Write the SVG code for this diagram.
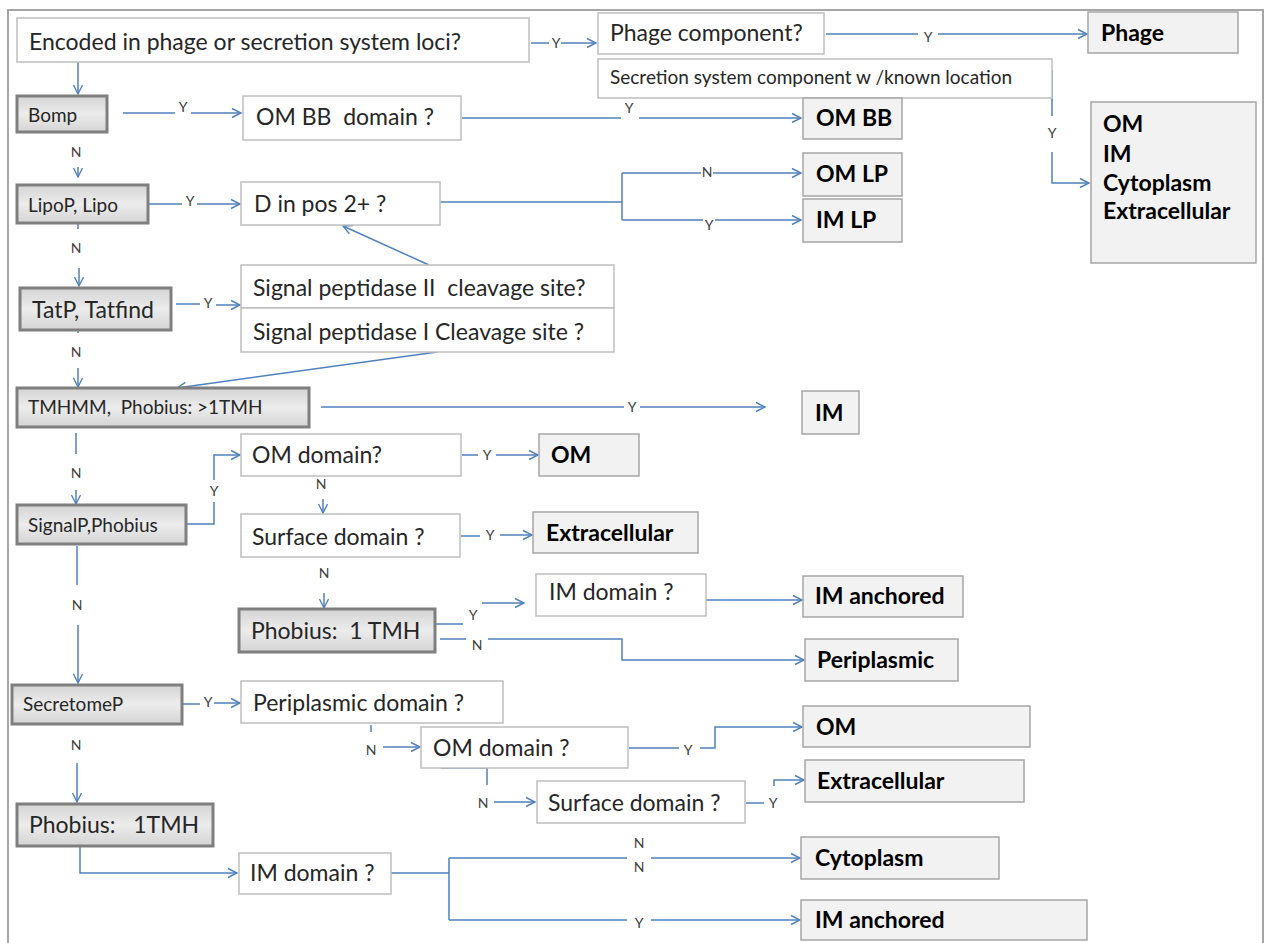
<svg xmlns="http://www.w3.org/2000/svg" width="1268" height="943" viewBox="0 0 1268 943">
<defs>
<linearGradient id="gt" x1="0" y1="0" x2="0" y2="1">
<stop offset="0" stop-color="#d4d4d4"/><stop offset="0.5" stop-color="#ececec"/><stop offset="1" stop-color="#d4d4d4"/>
</linearGradient>
<marker id="ah" markerWidth="12" markerHeight="12" refX="10" refY="6" orient="auto" markerUnits="userSpaceOnUse">
<path d="M1,1.5 L10,6 L1,10.5" fill="none" stroke="#4f81bd" stroke-width="1.4"/>
</marker>
<style>
.q{fill:#fff;stroke:#bfbfbf;stroke-width:1.5}
.t{fill:#f2f2f2;stroke:#a6a6a6;stroke-width:1.5}
.tool{fill:url(#gt);stroke:#7f7f7f;stroke-width:3}
.c{fill:none;stroke:#4f81bd;stroke-width:1.5}
.a{marker-end:url(#ah)}
text{font-family:Lato,"Open Sans","Liberation Sans",sans-serif;white-space:pre}
.tq{font-size:23px;fill:#262626}
.ts{font-size:19px;fill:#262626}
.tb{font-size:23px;font-weight:bold;fill:#000}
.l{font-size:14px;fill:#404040;text-anchor:middle}
</style>
</defs>
<rect x="8" y="10" width="1255" height="945" fill="#fff" stroke="#a6a6a6" stroke-width="2"/>

<g id="connectors">
<path class="c" d="M531,43 H549"/><text class="l" x="556" y="48">Y</text><path class="c a" d="M561,43 H596"/>
<path class="c" d="M826,34 H918"/><text class="l" x="928" y="42">Y</text><path class="c a" d="M938,34 H1087"/>
<path class="c" d="M1052,70 V116"/><text class="l" x="1052" y="138">Y</text><path class="c a" d="M1052,152 V183 H1089"/>
<path class="c a" d="M78,62 V94"/>
<path class="c" d="M123,113 H175"/><text class="l" x="183" y="112">Y</text><path class="c a" d="M191,113 H241"/>
<path class="c" d="M462,118 H621"/><text class="l" x="629" y="113">Y</text><path class="c a" d="M639,118 H801"/>
<path class="c" d="M78,126 V132"/><text class="l" x="76" y="157">N</text><path class="c a" d="M78,167 V177"/>
<path class="c" d="M149,204 H182"/><text class="l" x="190" y="206">Y</text><path class="c a" d="M197,204 H240"/>
<path class="c" d="M440,202 H622 M622,173 V220"/>
<path class="c" d="M622,173 H701"/><text class="l" x="707" y="177">N</text><path class="c a" d="M713,173 H801"/>
<path class="c" d="M622,220 H703"/><text class="l" x="709" y="230">Y</text><path class="c a" d="M715,220 H801"/>
<path class="c" d="M78,222 V229"/><text class="l" x="76" y="253">N</text><path class="c a" d="M79,268 V286"/>
<path class="c" d="M176,304 H200"/><text class="l" x="208" y="308">Y</text><path class="c a" d="M216,305 H240"/>
<path class="c a" d="M429,265 L343,226"/>
<path class="c" d="M78,320 V333"/><text class="l" x="76" y="357">N</text><path class="c a" d="M78,368 V387"/>
<path class="c a" d="M437,352 L177,388"/>
<path class="c" d="M321,407 H624"/><text class="l" x="632" y="412">Y</text><path class="c a" d="M640,407 H765"/>
<path class="c" d="M76,433 V454"/><text class="l" x="76" y="478">N</text><path class="c a" d="M76,490 V504"/>
<path class="c" d="M187,524 H214 V502"/><text class="l" x="214" y="496">Y</text><path class="c a" d="M214,480 V455 H240"/>
<path class="c" d="M462,455 H478"/><text class="l" x="487" y="460">Y</text><path class="c a" d="M496,455 H538"/>
<text class="l" x="321" y="489">N</text><path class="c a" d="M323,499 V513"/>
<path class="c" d="M461,536 H480"/><text class="l" x="490" y="540">Y</text><path class="c a" d="M500,535 H532"/>
<text class="l" x="324" y="578">N</text><path class="c a" d="M324,593 V608"/>
<path class="c" d="M436,624 H463"/><text class="l" x="473" y="620">Y</text><path class="c a" d="M482,603 H524"/>
<path class="c" d="M440,639 H466"/><text class="l" x="477" y="650">N</text><path class="c a" d="M488,639 H622 V660 H804"/>
<path class="c a" d="M706,600 H802"/>
<path class="c" d="M77,546 V585"/><text class="l" x="77" y="610">N</text><path class="c a" d="M78,625 V683"/>
<path class="c" d="M182,704 H200"/><text class="l" x="208" y="707">Y</text><path class="c a" d="M214,703 H240"/>
<path class="c" d="M371,725 V732"/><text class="l" x="371" y="755">N</text><path class="c a" d="M383,747 H420"/>
<path class="c" d="M629,748 H679"/><text class="l" x="688" y="755">Y</text><path class="c a" d="M700,748 H715 V727 H802"/>
<path class="c" d="M441,768 H487 V785"/><text class="l" x="483" y="808">N</text><path class="c a" d="M494,802 H535"/>
<path class="c" d="M746,803 H764"/><text class="l" x="773" y="808">Y</text><path class="c a" d="M774,786 V780 H804"/>
<rect x="630" y="819" width="20" height="8" fill="#fff"/>
<text class="l" x="639" y="848">N</text>
<path class="c" d="M76,708 V725"/><text class="l" x="76" y="750">N</text><path class="c a" d="M77,763 V802"/>
<path class="c a" d="M80,847 V873 H237"/>
<path class="c" d="M391,873 H449 M449,858 V920"/>
<path class="c" d="M449,858 H627"/><text class="l" x="639" y="872">N</text><path class="c a" d="M651,858 H800"/>
<path class="c" d="M449,920 H627"/><text class="l" x="639" y="928">Y</text><path class="c a" d="M651,920 H800"/>
</g>

<g id="n_encoded"><rect class="q" x="17" y="18" width="512" height="44"/><text class="tq" x="29" y="50">Encoded in phage or secretion system loci?</text></g>
<g id="n_phagecomp"><rect class="q" x="598" y="13" width="226" height="41"/><text class="tq" x="610" y="41">Phage component?</text></g>
<g id="n_phage"><rect class="t" x="1088" y="12" width="150" height="41"/><text class="tb" x="1101" y="41">Phage</text></g>
<g id="n_secretion"><rect class="q" x="598" y="59" width="454" height="39"/><text class="ts" x="610" y="84">Secretion system component w /known location</text></g>
<g id="n_locs"><rect class="t" x="1091" y="102" width="165" height="161"/>
<text class="tb" x="1103" y="132">OM</text><text class="tb" x="1103" y="162">IM</text><text class="tb" x="1103" y="191">Cytoplasm</text><text class="tb" x="1103" y="219">Extracellular</text></g>
<g id="n_bomp"><rect class="tool" x="17" y="96" width="90" height="36"/><text class="ts" x="28" y="122">Bomp</text></g>
<g id="n_ombbq"><rect class="q" x="243" y="96" width="218" height="44"/><text class="tq" x="256" y="125">OM BB  domain ?</text></g>
<g id="n_ombb"><rect class="t" x="803" y="98" width="99" height="41"/><text class="tb" x="816" y="126">OM BB</text></g>
<g id="n_lipo"><rect class="tool" x="17" y="185" width="131" height="38"/><text class="ts" x="28" y="212">LipoP, Lipo</text></g>
<g id="n_dq"><rect class="q" x="241" y="182" width="199" height="43"/><text class="tq" x="254" y="212">D in pos 2+ ?</text></g>
<g id="n_omlp"><rect class="t" x="803" y="153" width="99" height="43"/><text class="tb" x="816" y="182">OM LP</text></g>
<g id="n_imlp"><rect class="t" x="803" y="199" width="99" height="43"/><text class="tb" x="816" y="228">IM LP</text></g>
<g id="n_tat"><rect class="tool" x="20" y="288" width="151" height="42"/><text class="tq" x="32" y="318">TatP, Tatfind</text></g>
<g id="n_sp2"><rect class="q" x="241" y="265" width="373" height="43"/><text class="tq" x="253" y="296">Signal peptidase II  cleavage site?</text></g>
<g id="n_sp1"><rect class="q" x="241" y="308" width="373" height="44"/><text class="tq" x="253" y="340">Signal peptidase I Cleavage site ?</text></g>
<g id="n_tmhmm"><rect class="tool" x="17" y="388" width="292" height="39"/><text class="ts" x="28" y="414">TMHMM,  Phobius: &gt;1TMH</text></g>
<g id="n_im1"><rect class="t" x="802" y="391" width="57" height="43"/><text class="tb" x="815" y="421">IM</text></g>
<g id="n_signalp"><rect class="tool" x="17" y="505" width="169" height="39"/><text class="ts" x="28" y="532">SignalP,Phobius</text></g>
<g id="n_omq1"><rect class="q" x="241" y="434" width="220" height="42"/><text class="tq" x="252" y="463">OM domain?</text></g>
<g id="n_om1"><rect class="t" x="539" y="434" width="100" height="42"/><text class="tb" x="551" y="463">OM</text></g>
<g id="n_surfq1"><rect class="q" x="241" y="514" width="219" height="43"/><text class="tq" x="252" y="545">Surface domain ?</text></g>
<g id="n_extra1"><rect class="t" x="533" y="512" width="165" height="41"/><text class="tb" x="546" y="541">Extracellular</text></g>
<g id="n_phob1"><rect class="tool" x="239" y="609" width="196" height="43"/><text class="tq" x="251" y="639">Phobius:  1 TMH</text></g>
<g id="n_imq1"><rect class="q" x="536" y="574" width="170" height="42"/><text class="tq" x="549" y="600">IM domain ?</text></g>
<g id="n_imanch1"><rect class="t" x="803" y="576" width="160" height="41"/><text class="tb" x="815" y="604">IM anchored</text></g>
<g id="n_peri"><rect class="t" x="805" y="639" width="153" height="42"/><text class="tb" x="817" y="668">Periplasmic</text></g>
<g id="n_secretome"><rect class="tool" x="12" y="685" width="170" height="39"/><text class="ts" x="23" y="711">SecretomeP</text></g>
<g id="n_periq"><rect class="q" x="241" y="681" width="262" height="42"/><text class="tq" x="253" y="711">Periplasmic domain ?</text></g>
<g id="n_omq2"><rect class="q" x="421" y="727" width="207" height="41"/><text class="tq" x="433" y="756">OM domain ?</text></g>
<g id="n_om2"><rect class="t" x="803" y="706" width="227" height="41"/><text class="tb" x="816" y="735">OM</text></g>
<g id="n_surfq2"><rect class="q" x="537" y="781" width="208" height="42"/><text class="tq" x="548" y="811">Surface domain ?</text></g>
<g id="n_extra2"><rect class="t" x="805" y="760" width="219" height="42"/><text class="tb" x="817" y="789">Extracellular</text></g>
<g id="n_phob2"><rect class="tool" x="17" y="804" width="196" height="42"/><text class="tq" x="29" y="833">Phobius:   1TMH</text></g>
<g id="n_imq2"><rect class="q" x="239" y="853" width="152" height="41"/><text class="tq" x="250" y="881">IM domain ?</text></g>
<g id="n_cyto"><rect class="t" x="801" y="837" width="198" height="42"/><text class="tb" x="815" y="866">Cytoplasm</text></g>
<g id="n_imanch2"><rect class="t" x="801" y="900" width="286" height="40"/><text class="tb" x="815" y="928">IM anchored</text></g>
</svg>
